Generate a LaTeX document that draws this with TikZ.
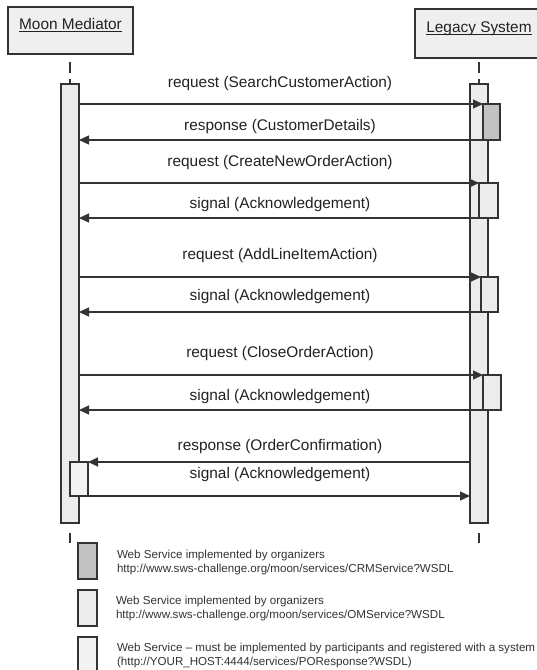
\documentclass[tikz,border=0pt]{standalone}
\usepackage{fontspec}
\setmainfont{Liberation Sans}
\usetikzlibrary{arrows.meta,calc}
\definecolor{ink}{HTML}{333333}
\definecolor{txt}{HTML}{222222}
\definecolor{barfill}{HTML}{ECECEC}
\definecolor{darkfill}{HTML}{C2C2C2}
\definecolor{hdrfill}{HTML}{EFEFEF}
\definecolor{palefill}{HTML}{F3F3F3}
\newcommand\hdrtext[1]{\underline{\smash{#1}}}
\begin{document}
\begin{tikzpicture}[x=1pt,y=-1pt,
  every node/.style={inner sep=0pt,outer sep=0pt},
  header/.style={draw=ink,line width=1.2pt,fill=hdrfill,text=txt,
    font=\fontsize{15.4}{18}\selectfont},
  lifebar/.style={draw=ink,line width=1.2pt,fill=barfill,anchor=north,
    minimum width=18pt},
  actbox/.style={draw=ink,line width=1.2pt,fill=barfill,anchor=north west},
  msg/.style={draw=ink,line width=1.2pt,-{Triangle[length=10pt,width=9pt]}},
  lbl/.style={text=txt,font=\fontsize{15.4}{18}\selectfont},
  stub/.style={draw=ink,line width=1.1pt},
  keybox/.style={draw=ink,line width=1.2pt,anchor=north west,
    minimum width=19pt,minimum height=36pt},
  keytext/.style={anchor=west,align=left,text=ink,
    font=\fontsize{11.6}{14}\selectfont}]
\clip (0,0) rectangle (537,670);
\fill[white] (0,0) rectangle (537,670);

% participants
\node[header,minimum width=125pt,minimum height=47pt] (mm) at (70.5,30.5)
  {\hdrtext{Moon Mediator}};
\node[header,minimum width=128pt,minimum height=49pt] (ls) at (479,33.5)
  {\hdrtext{Legacy System}};

% lifeline activation bars
\node[lifebar,minimum height=439pt] (mmbar) at (70,84) {};
\node[lifebar,minimum height=439pt] (lsbar) at (479,84) {};

% dashed lifeline pieces
\draw[stub,dash pattern=on 11pt off 6pt] ($(mmbar.north)+(0,-22)$) -- (mmbar.north);
\draw[stub,dash pattern=on 11pt off 6pt] ($(lsbar.north)+(0,-22)$) -- (lsbar.north);
\draw[stub] ($(mmbar.south)+(0,10)$) -- ($(mmbar.south)+(0,20)$);
\draw[stub] ($(lsbar.south)+(0,10)$) -- ($(lsbar.south)+(0,20)$);

% nested activations
\node[actbox,fill=darkfill,minimum width=17pt,minimum height=36pt] (b1) at (483,104) {};
\node[actbox,minimum width=19pt,minimum height=35pt] (b2) at (479,183) {};
\node[actbox,minimum width=17pt,minimum height=35pt] (b3) at (481,277) {};
\node[actbox,minimum width=18pt,minimum height=35pt] (b4) at (483,375) {};
\node[actbox,fill=palefill,minimum width=18pt,minimum height=34pt] (mb) at (70,462) {};

% messages
\draw[msg] (mmbar.east |- b1.north) -- (b1.north west);
\draw[msg] (b1.south west) -- (mmbar.east |- b1.south);
\draw[msg] (mmbar.east |- b2.north) -- (b2.north west);
\draw[msg] (b2.south west) -- (mmbar.east |- b2.south);
\draw[msg] (mmbar.east |- b3.north) -- (b3.north west);
\draw[msg] (b3.south west) -- (mmbar.east |- b3.south);
\draw[msg] (mmbar.east |- b4.north) -- (b4.north west);
\draw[msg] (b4.south west) -- (mmbar.east |- b4.south);
\draw[msg] (lsbar.west |- mb.north) -- (mb.north east);
\draw[msg] (mb.south east) -- (lsbar.west |- mb.south);

% message labels
\node[lbl] (l1) at (280,84) {request (SearchCustomerAction)};
\node[lbl] (l2) at (280,127) {response (CustomerDetails)};
\node[lbl] (l3) at (280,163) {request (CreateNewOrderAction)};
\node[lbl] (l4) at (280,205) {signal (Acknowledgement)};
\node[lbl] (l5) at (280,256) {request (AddLineItemAction)};
\node[lbl] (l6) at (280,297) {signal (Acknowledgement)};
\node[lbl] (l7) at (280,354) {request (CloseOrderAction)};
\node[lbl] (l8) at (280,397) {signal (Acknowledgement)};
\node[lbl] (l9) at (280,447) {response (OrderConfirmation)};
\node[lbl] (l10) at (280,475) {signal (Acknowledgement)};

% key
\node[keybox,fill=darkfill] (k1) at (78,543) {};
\node[keybox,fill=barfill] (k2) at (78,590) {};
\node[keybox,fill=palefill] (k3) at (78,637) {};
\node[keytext] (t1) at (117,562.5) {Web Service implemented by organizers\\
  http://www.sws-challenge.org/moon/services/CRMService?WSDL};
\node[keytext] (t2) at (116,608.5) {Web Service implemented by organizers\\
  http://www.sws-challenge.org/moon/services/OMService?WSDL};
\node[keytext] (t3) at (117,655.5) {Web Service -- must be implemented by participants and registered with a system\\
  (http://YOUR\_HOST:4444/services/POResponse?WSDL)};
\end{tikzpicture}
\end{document}
